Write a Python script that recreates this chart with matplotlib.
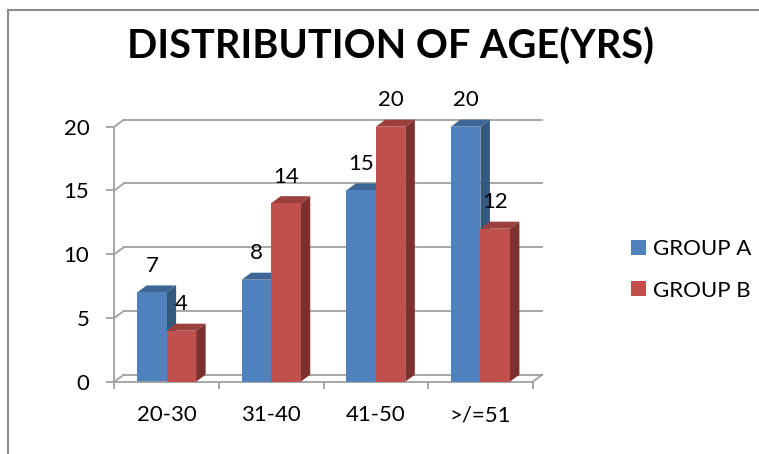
import matplotlib
matplotlib.use("Agg")
import matplotlib.pyplot as plt
from matplotlib.patches import Polygon, Rectangle, Patch
from matplotlib.lines import Line2D

# ------------------------------------------------------------
# Data
# ------------------------------------------------------------
categories = ["20-30", "31-40", "41-50", ">/=51"]
group_a = [7, 8, 15, 20]
group_b = [4, 14, 20, 12]
series_names = ["GROUP A", "GROUP B"]
y_ticks = [0, 5, 10, 15, 20]
title = "DISTRIBUTION OF AGE(YRS)"

plt.rcParams["font.family"] = ["Lato", "DejaVu Sans"]

# Excel 2007 style colours: front, top, side
BLUE = ("#4F81BD", "#3D6696", "#34597F")
RED = ("#C0504D", "#9C3E3B", "#7D302E")
GRID = "#A0A0A0"

W, H = 759, 454
fig = plt.figure(figsize=(W / 100, H / 100), dpi=100)
ax = fig.add_axes([114.3 / W, 1 - 381.7 / H, 418.4 / W, 255 / H])
ax.set_xlim(-0.5, len(categories) - 0.5)
ax.set_ylim(0, 20)

dx, dy = 0.091, 0.55   # 3D depth offset in data units
bw = 0.282             # width of one bar
x_lo, x_hi = ax.get_xlim()

# axes / spines
for s in ["top", "right"]:
    ax.spines[s].set_visible(False)
for s in ["left", "bottom"]:
    ax.spines[s].set_color(GRID)
    ax.spines[s].set_linewidth(1.3)

ax.set_yticks(y_ticks)
ax.tick_params(axis="y", length=6, width=1.3, color=GRID, pad=12,
               labelsize=16, labelcolor="black")
ax.set_xticks([x_lo + k for k in range(len(categories) + 1)])
ax.set_xticklabels([])
ax.set_xticks(range(len(categories)), minor=True)
ax.set_xticklabels(categories, minor=True)
ax.tick_params(axis="x", which="major", length=5, width=1.3, color=GRID)
ax.tick_params(axis="x", which="minor", length=0, pad=17, labelsize=16)

# walls: left-wall diagonals + back grid lines, floor
for v in y_ticks:
    ax.plot([x_lo, x_lo + dx], [v, v + dy], color=GRID, lw=1.3,
            clip_on=False, zorder=1)
    ax.plot([x_lo + dx, x_hi + dx], [v + dy, v + dy], color=GRID, lw=1.3,
            clip_on=False, zorder=1)
ax.plot([x_hi, x_hi + dx], [0, dy], color=GRID, lw=1.3, clip_on=False, zorder=1)

# 3D bars
z = 2
for i, (a, b) in enumerate(zip(group_a, group_b)):
    for x0, v, cols in [(i - bw, a, BLUE), (i, b, RED)]:
        x1 = x0 + bw
        ax.add_patch(Polygon([(x1, 0), (x1 + dx, dy), (x1 + dx, v + dy), (x1, v)],
                             closed=True, facecolor=cols[2], edgecolor="none",
                             clip_on=False, zorder=z))
        ax.add_patch(Polygon([(x0, v), (x0 + dx, v + dy), (x1 + dx, v + dy), (x1, v)],
                             closed=True, facecolor=cols[1], edgecolor="none",
                             clip_on=False, zorder=z))
        ax.add_patch(Rectangle((x0, 0), bw, v, facecolor=cols[0],
                               edgecolor="none", clip_on=False, zorder=z))
        ax.annotate(str(v), (x0 + bw / 2, v), xytext=(0, 19),
                    textcoords="offset points", ha="center", va="center",
                    fontsize=16, zorder=10)
        z += 1

# legend
handles = [Patch(facecolor=BLUE[0], edgecolor="none", label=series_names[0]),
           Patch(facecolor=RED[0], edgecolor="none", label=series_names[1])]
fig.legend(handles=handles, loc="center left",
           bbox_to_anchor=(622 / W, 1 - 270 / H), frameon=False, fontsize=16,
           handlelength=0.68, handleheight=0.68, handletextpad=0.3,
           labelspacing=0.95, borderaxespad=0)

# title, fitted to the reference width
t = fig.text(390.5 / W, 1 - 46.5 / H, title, ha="center", va="center",
             fontsize=26, fontweight="bold")
r = fig.canvas.get_renderer()
t.set_fontsize(26 * 525 / t.get_window_extent(r).width)

# outer chart frame
fig.add_artist(Line2D([8 / W, 1], [1 - 10 / H] * 2, transform=fig.transFigure,
                      color="#8C8C8C", lw=1.5))
fig.add_artist(Line2D([8 / W] * 2, [0, 1 - 10 / H], transform=fig.transFigure,
                      color="#8C8C8C", lw=1.5))

fig.savefig("out.png", dpi=100)
